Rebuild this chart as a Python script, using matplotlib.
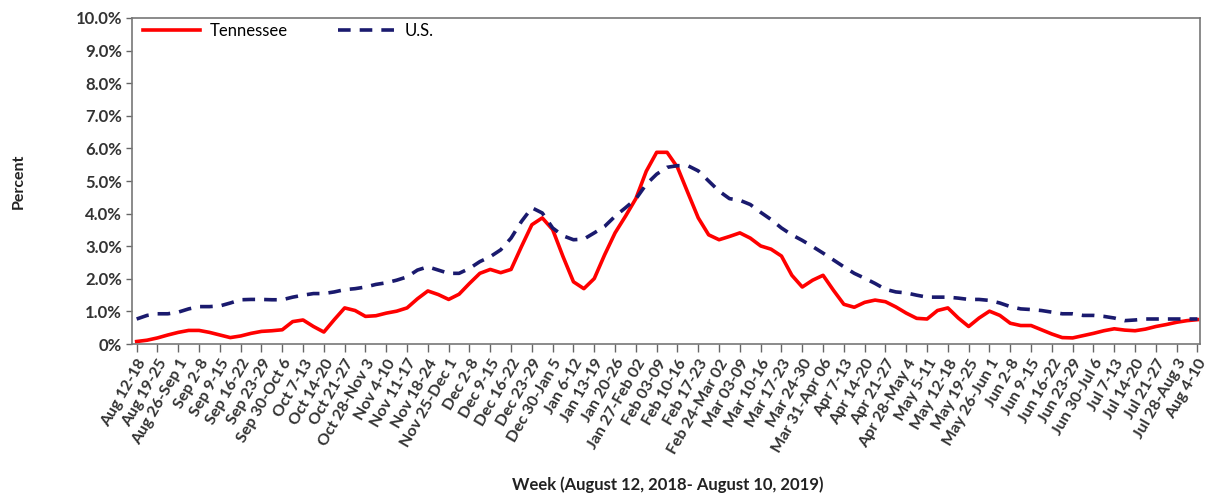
import numpy as np
import matplotlib
matplotlib.use("Agg")
import matplotlib.pyplot as plt

plt.rcParams['font.family'] = ['Lato', 'DejaVu Sans']

# Week labels (one tick per week)
weeks = ["Aug 12-18", "Aug 19-25", "Aug 26-Sep 1", "Sep 2-8", "Sep 9-15", "Sep 16-22",
         "Sep 23-29", "Sep 30-Oct 6", "Oct 7-13", "Oct 14-20", "Oct 21-27", "Oct 28-Nov 3",
         "Nov 4-10", "Nov 11-17", "Nov 18-24", "Nov 25-Dec 1", "Dec 2-8", "Dec 9-15",
         "Dec 16-22", "Dec 23-29", "Dec 30-Jan 5", "Jan 6-12", "Jan 13-19", "Jan 20-26",
         "Jan 27-Feb 02", "Feb 03-09", "Feb 10-16", "Feb 17-23", "Feb 24-Mar 02", "Mar 03-09",
         "Mar 10-16", "Mar 17-23", "Mar 24-30", "Mar 31-Apr 06", "Apr 7-13", "Apr 14-20",
         "Apr 21-27", "Apr 28-May 4", "May 5-11", "May 12-18", "May 19-25", "May 26-Jun 1",
         "Jun 2-8", "Jun 9-15", "Jun 16-22", "Jun 23-29", "Jun 30-Jul 6", "Jul 7-13",
         "Jul 14-20", "Jul 21-27", "Jul 28-Aug 3", "Aug 4-10"]

# Percent values, every half week
tennessee = [0.08, 0.12, 0.19, 0.28, 0.36, 0.42, 0.42, 0.36, 0.28, 0.20,
             0.25, 0.33, 0.39, 0.41, 0.44, 0.69, 0.74, 0.54, 0.37, 0.75,
             1.11, 1.03, 0.85, 0.87, 0.95, 1.01, 1.11, 1.39, 1.63, 1.52,
             1.37, 1.53, 1.86, 2.17, 2.29, 2.19, 2.29, 2.99, 3.66, 3.87,
             3.51, 2.68, 1.91, 1.70, 2.01, 2.74, 3.41, 3.92, 4.46, 5.30,
             5.88, 5.88, 5.42, 4.64, 3.87, 3.35, 3.20, 3.30, 3.41, 3.25,
             3.01, 2.91, 2.70, 2.11, 1.75, 1.96, 2.11, 1.65, 1.22, 1.13,
             1.28, 1.35, 1.30, 1.14, 0.95, 0.79, 0.77, 1.03, 1.11, 0.80,
             0.54, 0.80, 1.01, 0.88, 0.64, 0.57, 0.57, 0.44, 0.31, 0.20,
             0.19, 0.26, 0.33, 0.41, 0.47, 0.43, 0.41, 0.46, 0.54, 0.60,
             0.67, 0.72, 0.75]

us = [0.77, 0.88, 0.93, 0.93, 0.98, 1.08, 1.15, 1.15, 1.17, 1.26,
      1.36, 1.37, 1.37, 1.36, 1.36, 1.44, 1.50, 1.55, 1.55, 1.60,
      1.67, 1.70, 1.75, 1.83, 1.88, 1.96, 2.06, 2.27, 2.37, 2.27,
      2.17, 2.17, 2.32, 2.53, 2.68, 2.89, 3.25, 3.76, 4.18, 4.02,
      3.56, 3.32, 3.20, 3.22, 3.41, 3.61, 3.92, 4.18, 4.45, 4.90,
      5.21, 5.42, 5.47, 5.47, 5.31, 5.00, 4.69, 4.46, 4.41, 4.28,
      4.04, 3.82, 3.56, 3.35, 3.18, 2.99, 2.79, 2.58, 2.37, 2.17,
      2.02, 1.86, 1.68, 1.60, 1.57, 1.50, 1.44, 1.44, 1.44, 1.41,
      1.37, 1.37, 1.34, 1.26, 1.15, 1.08, 1.06, 1.03, 0.98, 0.93,
      0.93, 0.88, 0.88, 0.85, 0.80, 0.72, 0.74, 0.77, 0.77, 0.77,
      0.77, 0.77, 0.77]

x = np.arange(len(tennessee)) * 0.5

fig = plt.figure(figsize=(12.08, 4.98), dpi=100)
ax = fig.add_axes([0.109, 0.309, 0.884, 0.655])

ax.plot(x, tennessee, color='#ff0000', linewidth=2.6, label='Tennessee')
ax.plot(x, us, color='#1a1a6e', linewidth=2.6, dashes=(3.5, 2.5), label='U.S.')

ax.set_xlim(-0.24, 51.1)
ax.set_ylim(0, 10)

ax.set_yticks(np.arange(0, 11, 1))
ax.set_yticklabels(['0%'] + [f'{v:.1f}%' for v in np.arange(1, 11, 1)],
                   fontsize=12, fontweight='bold', color='#333333')
ax.set_xticks(np.arange(len(weeks)))
ax.set_xticklabels(weeks, rotation=60, ha='right', rotation_mode='anchor',
                   fontsize=11.5, fontweight='bold', color='#333333')
ax.tick_params(axis='y', length=4, width=1, color='#666666', pad=3)
ax.tick_params(axis='x', length=6, width=1, color='#666666', pad=3)

for s in ax.spines.values():
    s.set_color('#777777')
    s.set_linewidth(1.2)

ax.set_ylabel('Percent', fontsize=11.5, fontweight='bold', color='#222222', labelpad=36)
fig.text(0.553, 0.026, 'Week (August 12, 2018- August 10, 2019)', fontsize=12,
         fontweight='bold', color='#222222', ha='center', va='center')

ax.legend(loc='upper left', ncol=2, frameon=False, fontsize=12,
          handlelength=3.4, handletextpad=0.6, columnspacing=3.0,
          borderaxespad=0.3, bbox_to_anchor=(0.0, 1.02))

fig.savefig('out.png', dpi=100)
